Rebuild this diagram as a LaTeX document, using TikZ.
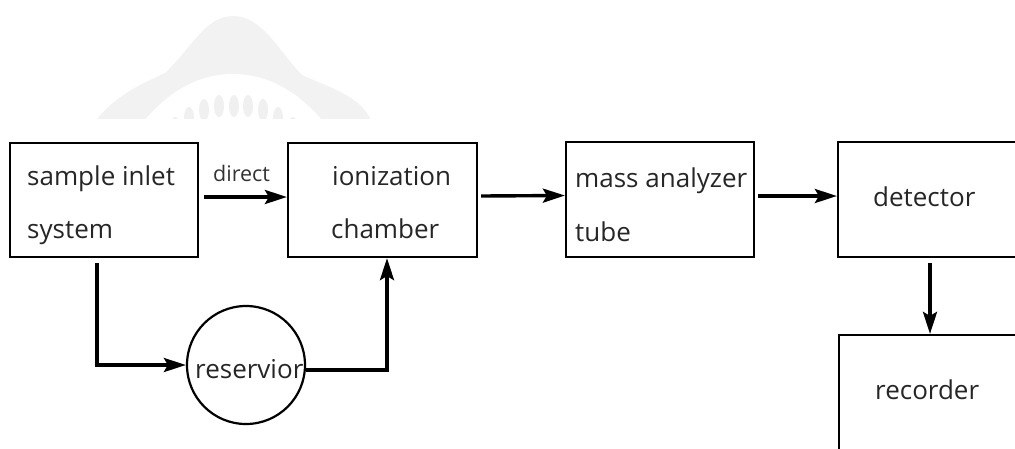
\documentclass[tikz,border=0pt]{standalone}
\usepackage{fontspec}
\setmainfont{Open Sans}
\usetikzlibrary{arrows.meta}
\begin{document}
\begin{tikzpicture}[x=1pt,y=-1pt,
  blk/.style={draw=black,line width=2.2pt,rectangle,inner sep=0pt},
  arr/.style={line width=3.4pt,-{Stealth[length=22pt,width=14pt,inset=4pt]}},
  lbl/.style={anchor=base west,inner sep=0pt,text=black!85,font=\fontsize{26}{30}\selectfont},
  small/.style={anchor=base west,inner sep=0pt,text=black!80,font=\fontsize{21.5}{25}\selectfont}]
\useasboundingbox (0,0) rectangle (1015,448);
\clip (0,0) rectangle (1015,448);
% watermark
\begin{scope}
\clip (0,0) rectangle (1015,118);
\fill[gray!10] (85,140) -- (95,122) .. controls (115,95) and (140,85) .. (165,73)
  .. controls (190,50) and (205,16) .. (233,16)
  .. controls (262,16) and (278,50) .. (302,75)
  .. controls (330,88) and (360,95) .. (372,122) -- (380,140) -- cycle;
\fill[white] (145,120) .. controls (170,90) and (200,74) .. (233,74)
  .. controls (266,74) and (296,90) .. (322,120) -- cycle;
\foreach \x/\y in {175/128,189/118,204/110,219/106,234/106,248/106,263/110,278/118,293/128}
  \fill[gray!12] (\x,\y) ellipse [x radius=5, y radius=11];
\end{scope}
% blocks
\node[blk,minimum width=188pt,minimum height=114pt] (sample) at (104,200) {};
\node[blk,minimum width=189pt,minimum height=114pt] (ion) at (382.5,200) {};
\node[blk,minimum width=188pt,minimum height=115pt] (mass) at (660,199.5) {};
\node[blk,minimum width=202pt,minimum height=115pt] (det) at (939,199.5) {};
\node[blk,minimum width=202pt,minimum height=135pt] (rec) at (940,402.5) {};
\node[draw=black,line width=2.2pt,circle,minimum size=118pt,inner sep=0pt] (res) at (246,365) {};
% texts
\node[lbl] (t1) at (27,185) {sample inlet};
\node[lbl] (t2) at (27,238) {system};
\node[small] (t3) at (213,181) {direct};
\node[lbl] (t4) at (332,185) {ionization};
\node[lbl] (t5) at (331,238) {chamber};
\node[lbl] (t6) at (575,187) {mass analyzer};
\node[lbl] (t7) at (575,241) {tube};
\node[lbl] (t8) at (873,206) {detector};
\node[lbl] (t9) at (195,378) {reservior};
\node[lbl] (t10) at (875,399) {recorder};
% connectors
\draw[arr] ([xshift=5pt,yshift=3pt]sample.east) -- ([yshift=3pt]ion.west);
\draw[arr] ([xshift=3pt,yshift=4pt]ion.east) -- ([yshift=4pt]mass.west);
\draw[arr] ([xshift=3pt,yshift=3.5pt]mass.east) -- ([yshift=3.5pt]det.west);
\coordinate (c1) at (930,263);
\draw[arr] (c1) -- (c1 |- rec.north);
\coordinate (s1) at (97,263);
\draw[arr] (s1) |- (res.west);
\draw[arr] ([yshift=-5pt]res.east) -| ([xshift=4.5pt]ion.south);
\end{tikzpicture}
\end{document}
